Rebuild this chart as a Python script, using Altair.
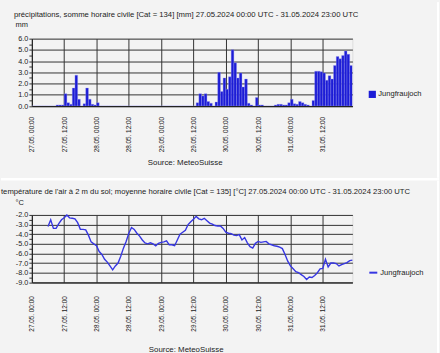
import altair as alt
import pandas as pd

# ---------------- data ----------------
start = pd.Timestamp("2024-05-27T00:00:00Z")
hours = pd.date_range(start, periods=120, freq="h")
time_end = [t.strftime("%Y-%m-%dT%H:%M:%SZ") for t in hours]
time_start = [(t - pd.Timedelta(hours=1)).strftime("%Y-%m-%dT%H:%M:%SZ") for t in hours]

series_name = ["Jungfraujoch"]

# hourly precipitation sums [mm], 27.05 00:00 ... 31.05 23:00
precip_mm = (
    [0] * 10
    + [0.1, 0.1, 0.1, 1.1, 0.3, 0.15, 1.6, 2.75, 0.6, 0, 0.2, 1.6, 0.6, 0.15, 0.1, 0.3]
    + [0] * 36
    + [0.3, 1.1, 0.9, 1.1, 0.4, 0.25, 0, 0.35, 3.0, 1.3, 2.5, 1.5, 2.6, 5.0, 3.85, 2.5,
       2.95, 1.7, 2.4, 0.25, 0.1, 0, 0.75, 0.1, 0.1, 0, 0, 0, 0, 0.1, 0.15, 0.15, 0.1,
       0.1, 0.3, 0.6, 0.2, 0.15, 0.4, 0.3, 0.15, 0.1, 0, 0.5]
    + [3.1, 3.1, 3.05, 2.95, 2.3, 2.7, 2.4, 3.6, 4.4, 4.2, 4.5, 4.9, 4.6, 3.6]
)

# hourly mean air temperature [°C] (first six hours missing)
temp_c = [None] * 6 + [
    -3.2, -2.5, -3.4, -3.4, -2.9, -2.5, -2.3, -2.0, -2.3, -2.35, -2.4, -2.8, -3.5, -3.5,
    -3.55, -4.1, -4.8, -5.0, -5.2, -5.8, -6.1, -6.6, -6.9, -7.3, -7.7, -7.3, -7.0, -6.3,
    -5.45, -4.75, -3.9, -3.3, -3.5, -3.9, -4.2, -4.6, -4.9, -5.0, -4.9, -5.0, -5.2, -4.95,
    -4.85, -4.8, -4.7, -5.1, -5.1, -5.2, -4.6, -4.0, -3.8, -3.6, -3.0, -2.7, -2.45, -2.15,
    -2.4, -2.5, -2.35, -2.6, -2.85, -2.95, -3.1, -3.15, -3.15, -3.4, -3.8, -3.9, -3.95,
    -4.1, -4.15, -4.05, -4.6, -4.35, -4.9, -5.3, -5.45, -4.95, -4.75, -4.85, -4.8, -4.75,
    -5.0, -5.1, -5.2, -5.25, -5.35, -5.5, -6.1, -6.8, -7.3, -7.6, -7.9, -8.0, -8.2, -8.4,
    -8.7, -8.45, -8.5, -8.3, -8.0, -7.6, -7.55, -6.6, -7.4, -7.0, -7.0, -7.05, -7.3,
    -7.15, -7.05, -6.95, -6.75, -6.7,
]

title_precip = ["précipitations, somme horaire civile [Cat = 134] [mm]  27.05.2024 00:00 UTC - 31.05.2024 23:00 UTC"]
title_temp = ["température de l'air à 2 m du sol; moyenne horaire civile [Cat = 135] [°C]  27.05.2024 00:00 UTC - 31.05.2024 23:00 UTC"]
unit_precip = ["mm"]
unit_temp = ["°C"]
source_text = ["Source: MeteoSuisse"]

df_p = pd.DataFrame({"start": time_start, "end": time_end, "mm": precip_mm,
                     "series": series_name * len(time_end)})
df_t = pd.DataFrame({"time": time_end, "temp": temp_c,
                     "series": series_name * len(time_end)}).dropna()

# ---------------- styling ----------------
FONT = "Liberation Sans"
TXT = "#222222"
GRID = "#333333"
BAR = "#1c1cd6"
LINE = "#3636e2"
BG = "#f3f3f3"
W, H1, H2 = 322, 67.7, 67.7

x_scale = alt.Scale(
    type="utc",
    domain=[alt.DateTime(year=2024, month=5, date=27, hours=0, utc=True),
            alt.DateTime(year=2024, month=5, date=31, hours=23, utc=True)],
)
tick_vals = [alt.DateTime(year=2024, month=5, date=27 + d, hours=h, utc=True)
             for d in range(5) for h in (0, 12)]


def x_axis(pad):
    return alt.Axis(values=tick_vals, labelExpr="utcFormat(datum.value, '%d.%m. %H:%M')",
                    labelAngle=270, labelFontSize=6.4, labelFont=FONT, labelColor=TXT,
                    labelPadding=pad, labelFlush=False, labelOverlap=False, ticks=False,
                    grid=True, gridColor=GRID, gridWidth=1, domainColor="#222", title=None)


def y_axis(vals):
    return alt.Axis(values=vals, labelExpr="datum.value % 1 === 0 ? datum.value + '.0' : ''",
                    labelFontSize=7.3, labelFont=FONT, labelColor=TXT, labelPadding=1,
                    labelOverlap=False, tickSize=3, tickColor="#333", domainColor="#222",
                    grid=True, gridColor=GRID, gridWidth=1,
                    gridOpacity={"condition": {"test": "datum.value % 1 !== 0", "value": 0}, "value": 1},
                    title=None)


def text_layer(values, x, y, align="left", size=7.3, baseline="alphabetic"):
    return alt.Chart(pd.DataFrame({"label": values})).mark_text(
        align=align, baseline=baseline, fontSize=size, font=FONT, color=TXT
    ).encode(x=alt.value(x), y=alt.value(y), text="label:N")


def plain_rect(x, x2, y, y2, color="white"):
    return alt.Chart(pd.DataFrame({"k": [0]})).mark_rect(color=color).encode(
        x=alt.value(x), x2=alt.value(x2), y=alt.value(y), y2=alt.value(y2))


# ---------------- top panel: precipitation ----------------
bars = alt.Chart(df_p).mark_rect(clip=True, stroke="#9a9af0", strokeWidth=0.35).encode(
    x=alt.X("start:T", scale=x_scale, axis=x_axis(10.5)),
    x2="end:T",
    y=alt.Y("mm:Q", scale=alt.Scale(domain=[0, 6], nice=False),
            axis=y_axis([i / 2 for i in range(13)])),
    y2=alt.datum(0),
    color=alt.Color("series:N", scale=alt.Scale(range=[BAR]),
                    legend=alt.Legend(title=None, orient="none", legendX=338, legendY=52,
                                      symbolType="square", symbolSize=52, symbolStrokeWidth=0,
                                      labelFontSize=7.6, labelFont=FONT, labelColor=TXT,
                                      labelOffset=2, padding=0)),
)

top = alt.layer(
    plain_rect(-31, -30, -36.7, -35.7, BG),
    bars,
    text_layer(title_precip, -18, -21.3, size=7.75),
    text_layer(unit_precip, -16.5, -11.5, size=7.5),
    text_layer(source_text, 154, 125.3, align="center", size=7.9, baseline="middle"),
    plain_rect(407, 409, -36.7, 139.8),
).properties(width=W, height=H1)

# ---------------- bottom panel: temperature ----------------
line = alt.Chart(df_t).mark_line(strokeWidth=1.4).encode(
    x=alt.X("time:T", scale=x_scale, axis=x_axis(13.5)),
    y=alt.Y("temp:Q", scale=alt.Scale(domain=[-9, -2], nice=False),
            axis=y_axis([-9 + i / 2 for i in range(15)])),
    color=alt.Color("series:N", scale=alt.Scale(range=[LINE]),
                    legend=alt.Legend(title=None, orient="none", legendX=338, legendY=53,
                                      symbolType="stroke", symbolSize=64, symbolStrokeWidth=2,
                                      labelFontSize=7.6, labelFont=FONT, labelColor=TXT,
                                      labelOffset=2, padding=0)),
)

bottom = alt.layer(
    plain_rect(-31, 409, -37, -34.5),
    line,
    text_layer(title_temp, -31, -21, size=7.7),
    text_layer(unit_temp, -16.5, -10, size=7.5),
    text_layer(source_text, 155, 135.5, align="center", size=7.9, baseline="middle"),
    plain_rect(407, 409, -34.5, 139.5),
).properties(width=W, height=H2)

chart = alt.vconcat(top, bottom, spacing=109.1, bounds="flush").resolve_scale(
    x="independent", y="independent", color="independent"
).resolve_legend(color="independent").properties(
    padding=0,
    background=BG,
).configure_view(stroke="#222", strokeWidth=1).configure(font=FONT)

chart.save("out.html", embed_options={"renderer": "svg", "actions": False})
